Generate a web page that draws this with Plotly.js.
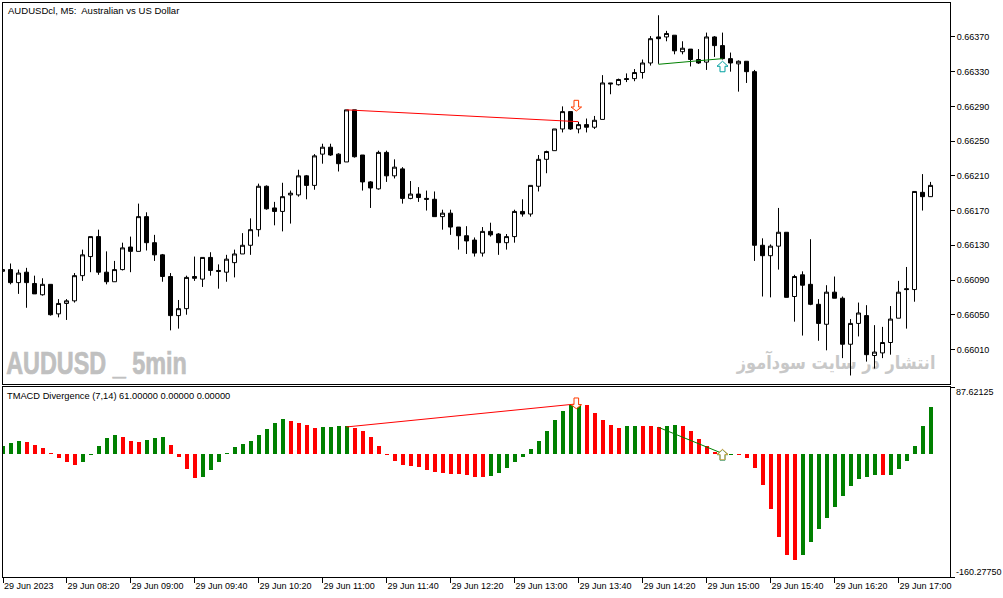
<!DOCTYPE html>
<html><head><meta charset="utf-8">
<script src="https://cdn.plot.ly/plotly-3.0.1.min.js"></script>
<style>html,body{margin:0;padding:0;background:#fff}#c{width:1003px;height:598px}</style></head>
<body><div id="c"></div>
<script>
// Prices in points (price x 100000)
const openPts=[66100,66102,66087,66099,66086,66073,66085,66051,66063,66066,
66095,66117,66140,66099,66088,66102,66128,66123,66163,66133,
66119,66094,66049,66057,66094,66091,66116,66101,66099,66110,
66120,66130,66148,66198,66173,66169,66188,66188,66210,66199,
66235,66243,66235,66226,66286,66234,66203,66195,66237,66210,
66218,66184,66189,66184,66183,66163,66167,66151,66141,66136,
66121,66146,66143,66133,66140,66169,66166,66198,66229,66239,
66264,66284,66264,66269,66266,66275,66317,66315,66322,66322,
66329,66340,66370,66370,66372,66353,66356,66344,66341,66370,
66360,66345,66339,66342,66330,66130,66118,66129,66145,66071,
66096,66085,66062,66039,66076,66069,66016,66040,66049,66003,
66006,66018,66046,66080,66079,66191,66186];
const highPts=[66102,66109,66102,66104,66095,66092,66085,66068,66068,66098,
66125,66140,66148,66123,66112,66133,66140,66178,66168,66142,
66120,66098,66067,66095,66117,66116,66122,66108,66119,66125,
66144,66161,66201,66199,66180,66202,66193,66217,66211,66235,
66247,66247,66236,66286,66286,66234,66204,66239,66239,66229,
66220,66204,66197,66193,66192,66171,66171,66151,66152,66139,
66151,66156,66144,66143,66171,66183,66199,66234,66239,66264,
66290,66284,66272,66276,66279,66326,66317,66322,66328,66333,
66344,66371,66395,66377,66372,66365,66356,66356,66375,66371,
66375,66352,66343,66342,66332,66138,66131,66173,66145,66096,
66100,66137,66068,66084,66094,66071,66045,66064,66061,66038,
66036,66060,66089,66105,66192,66212,66203];
const lowPts=[66100,66085,66074,66058,66074,66072,66049,66047,66044,66064,
66089,66099,66096,66085,66088,66101,66099,66123,66124,66112,
66088,66032,66034,66050,66089,66082,66095,66080,66088,66093,
66120,66119,66140,66171,66153,66146,66155,66186,66183,66194,
66224,66233,66215,66226,66231,66193,66173,66194,66203,66207,
66178,66183,66180,66170,66163,66148,66142,66125,66120,66117,
66117,66140,66119,66125,66133,66163,66163,66192,66213,66239,
66260,66263,66259,66260,66264,66275,66304,66314,66318,66319,
66322,66337,66339,66365,66350,66350,66336,66339,66332,66347,
66344,66330,66307,66317,66112,66071,66070,66102,66070,66042,
66026,66061,66020,66009,66069,66000,65980,66025,65996,65988,
66000,66004,66046,66034,66065,66170,66186];
const closePts=[66102,66087,66098,66087,66074,66085,66050,66063,66066,66095,
66119,66140,66099,66088,66102,66127,66123,66163,66133,66119,
66094,66049,66057,66093,66092,66116,66101,66100,66114,66120,
66130,66148,66198,66172,66169,66186,66190,66210,66199,66233,
66243,66234,66224,66286,66232,66203,66196,66237,66210,66220,
66184,66189,66185,66183,66163,66167,66151,66141,66135,66121,
66146,66142,66133,66140,66169,66166,66199,66229,66238,66264,
66284,66264,66269,66266,66274,66317,66316,66321,66321,66329,
66340,66368,66368,66374,66354,66357,66344,66340,66370,66360,
66345,66340,66342,66330,66130,66118,66129,66145,66070,66094,
66084,66062,66040,66076,66069,66016,66040,66052,66004,66007,
66018,66045,66076,66079,66192,66186,66199];
const macdValues=[10.4,14.3,16.9,15.6,11.7,7.8,1.3,-5.2,-10.4,-14.3,
-10.4,-1.3,10.4,20.8,24.7,22.1,16.9,15.6,18.2,20.8,
22.1,11.7,-3.9,-19.5,-31.2,-29.9,-20.8,-10.4,1.3,9.1,
13,16.9,24.7,32.5,40.2,45.4,42.8,40.2,37.6,33.8,
35,35,36.3,36.3,33.8,29.9,22.1,10.4,-1.3,-9.1,
-14.3,-15.6,-16.9,-20.8,-23.4,-24.7,-26,-26,-27.3,-29.9,
-29.9,-28.6,-24.7,-18.2,-10.4,-3.9,6.5,16.9,29.9,44.1,
55.8,63.6,64.9,63.6,53.2,44.1,37.6,33.8,36.3,36.3,
36.3,36.3,35,36.3,37.6,36.3,29.9,19.5,10.4,2.6,
1.3,-1.3,-1.3,-5.2,-18.2,-40.2,-71.4,-107.7,-131.1,-137.6,
-131.1,-114.2,-97.4,-83.1,-68.8,-54.5,-41.5,-32.5,-29.9,-27.3,
-27.3,-27.3,-19.5,-9.1,10.4,36.3,61];
const macdSide=("gggrrrrrrr"+"gggggrrrgg"+"grrrrggggg"+"ggggggrrrr"+"ggggrrrrrr"+"rrrrrrrrrr"+
"rggggggggg"+"gggrrrrrgg"+"rrrggrrrrr"+"ggrrrrrrrr"+"gggggggggg"+"rgggggg").split("");
const timeLabels=["29 Jun 2023","29 Jun 08:20","29 Jun 09:00","29 Jun 09:40","29 Jun 10:20","29 Jun 11:00","29 Jun 11:40","29 Jun 12:20","29 Jun 13:00","29 Jun 13:40","29 Jun 14:20","29 Jun 15:00","29 Jun 15:40","29 Jun 16:20","29 Jun 17:00"];
const timeIdx=[0.0625,8,16,24,32,40,48,56,64,72,80,88,96,104,112];
const priceTicks=[66010,66050,66090,66130,66170,66210,66250,66290,66330,66370];
const indTicks=[87.62125,-160.2775];
const idx=openPts.map((_,i)=>i);
const P=v=>v/100000;
const F="Liberation Sans", RED="#ff0000", GREEN="#008000", K="#000";
const xr=[0.0625,118.4375];
const yr=[P(65970.2),P(66409.1)];
const colors=idx.map(i=>macdSide[i]==="r"?RED:GREEN);

const traces=[
 {type:"scatter",mode:"text",x:[11.75],y:[P(65991)],text:["AUDUSD _ 5min"],textposition:"middle center",cliponaxis:false,
  textfont:{family:"Liberation Sans",size:31,color:"#c0c0c0",weight:"bold"},xaxis:"x",yaxis:"y",showlegend:false,hoverinfo:"skip"},
 {type:"scatter",mode:"text",x:[104.2],y:[P(65993)],text:["انتشار در سایت سودآموز"],textposition:"middle center",cliponaxis:false,
  textfont:{family:"DejaVu Sans",size:19,color:"#c8c8c8",weight:"bold"},xaxis:"x",yaxis:"y",showlegend:false,hoverinfo:"skip"},
 {type:"candlestick",x:idx,open:openPts.map(P),high:highPts.map(P),low:lowPts.map(P),close:closePts.map(P),xaxis:"x3",yaxis:"y3",
  whiskerwidth:0,increasing:{line:{color:K,width:1},fillcolor:"#fff"},decreasing:{line:{color:K,width:1},fillcolor:K},showlegend:false,hoverinfo:"skip"},
 {type:"scatter",mode:"lines",x:[43,72],y:[P(66286),P(66272.4)],line:{color:RED,width:1},xaxis:"x3",yaxis:"y3",showlegend:false,hoverinfo:"skip"},
 {type:"scatter",mode:"lines",x:[82,90],y:[P(66338.5),P(66345)],line:{color:GREEN,width:1},xaxis:"x3",yaxis:"y3",showlegend:false,hoverinfo:"skip"},
 {type:"bar",x:idx,y:macdValues,width:0.5,marker:{color:colors,line:{width:0}},xaxis:"x2",yaxis:"y2",showlegend:false,hoverinfo:"skip"},
 {type:"scatter",mode:"lines",x:[43,72],y:[35.5,65.8],line:{color:RED,width:1},xaxis:"x2",yaxis:"y2",showlegend:false,hoverinfo:"skip"},
 {type:"scatter",mode:"lines",x:[82,90],y:[35,0.9],line:{color:GREEN,width:1},xaxis:"x2",yaxis:"y2",showlegend:false,hoverinfo:"skip"}
];

const downArrow="M-4.5 0 L0.1 0 L0.1 -6.7 L3.1 -6.7 L-2.2 -10.7 L-7.5 -6.7 L-4.5 -6.7 Z";
const upArrow="M0 0 L5.5 -5 L2.5 -5 L2.5 -10.5 L-2.5 -10.5 L-2.5 -5 L-5.5 -5 Z";
function arrow(xref,yref,k,v,path,color,fill){
 return {type:"path",xref,yref,xsizemode:"pixel",ysizemode:"pixel",xanchor:k,yanchor:v,path,line:{color,width:1},fillcolor:fill,layer:"above"};
}
const shapes=[
 arrow("x","y",72,P(66297),downArrow,"#ff3c00","#fff"),
 arrow("x","y",90,P(66342),upArrow,"#00a0a0","#fff"),
 arrow("x2","y2",72,73.3,downArrow,"#ff3c00","#fff"),
 arrow("x2","y2",90,5.8,upArrow,"#00a0a0","#fff"),
 arrow("x2","y2",90,6.3,upArrow,"#e0a030","rgba(0,0,0,0)")
];
const fnt={family:F,size:9,color:K};
const annotations=[
 {xref:"paper",yref:"paper",x:0.0039,y:0.99826,xanchor:"left",yanchor:"top",showarrow:false,text:"AUDUSDcl, M5:  Australian vs US Dollar",font:{family:F,size:9.55,color:K},borderpad:0},
 {xref:"paper",yref:"paper",x:0.0032,y:0.3258,xanchor:"left",yanchor:"top",showarrow:false,text:"TMACD Divergence (7,14) 61.00000 0.00000 0.00000",font:{family:F,size:9.3,color:K},borderpad:0},
 {xref:"paper",yref:"y2",x:1.0056,y:indTicks[0],xanchor:"left",yanchor:"middle",yshift:-5,showarrow:false,text:"87.62125",font:fnt,borderpad:0},
 {xref:"paper",yref:"y2",x:1.0056,y:indTicks[1],xanchor:"left",yanchor:"middle",yshift:5,showarrow:false,text:"-160.27750",font:fnt,borderpad:0}
];
const frame={showline:true,linecolor:K,linewidth:1,mirror:true,showgrid:false,zeroline:false};
const layout={
 width:1003,height:598,margin:{l:3,r:53,t:3,b:21,pad:0},paper_bgcolor:"#fff",plot_bgcolor:"#fff",showlegend:false,
 font:fnt,bargap:0,boxgap:0.5,boxgroupgap:0,hovermode:false,
 xaxis:{...frame,domain:[0,1],range:xr,anchor:"y",ticks:"",showticklabels:false},
 yaxis:{...frame,domain:[193/574,1],range:yr,anchor:"x",side:"right",ticks:"outside",ticklen:4,tickcolor:K,tickwidth:1,
   tickvals:priceTicks.map(P),ticktext:priceTicks.map(v=>P(v).toFixed(5)),tickfont:fnt},
 xaxis3:{range:xr,overlaying:"x",anchor:"y3",visible:false,rangeslider:{visible:false}},
 yaxis3:{range:yr,overlaying:"y",anchor:"x3",visible:false},
 xaxis2:{...frame,domain:[0,1],range:xr,anchor:"y2",ticks:"outside",ticklen:5,tickcolor:K,tickwidth:1,
   tickvals:timeIdx,ticktext:timeLabels,ticklabelposition:"outside right",ticklabeloverflow:"allow",tickfont:fnt},
 yaxis2:{...frame,domain:[0,190/574],range:[indTicks[1],indTicks[0]],anchor:"x2",side:"right",ticks:"outside",ticklen:4,tickcolor:K,tickwidth:1,
   tickvals:indTicks,ticktext:["",""]},
 shapes,annotations
};
Plotly.newPlot("c",traces,layout,{staticPlot:true,displayModeBar:false}).then(()=>{
 // condense the two watermark texts horizontally around their own centres
 const squeeze={"AUDUSD _ 5min":[0.755,0.7],"انتشار در سایت سودآموز":[0.85,0]};
 document.querySelectorAll("#c .textpoint text").forEach(t=>{
  const s=squeeze[t.textContent]; if(!s) return;
  const cx=+t.getAttribute("x");
  t.setAttribute("transform",`translate(${cx},0) scale(${s[0]},1) translate(${-cx},0)`);
  if(s[1]){t.style.stroke="#c0c0c0";t.style.strokeWidth=s[1]+"px";}
 });
});
</script></body></html>
